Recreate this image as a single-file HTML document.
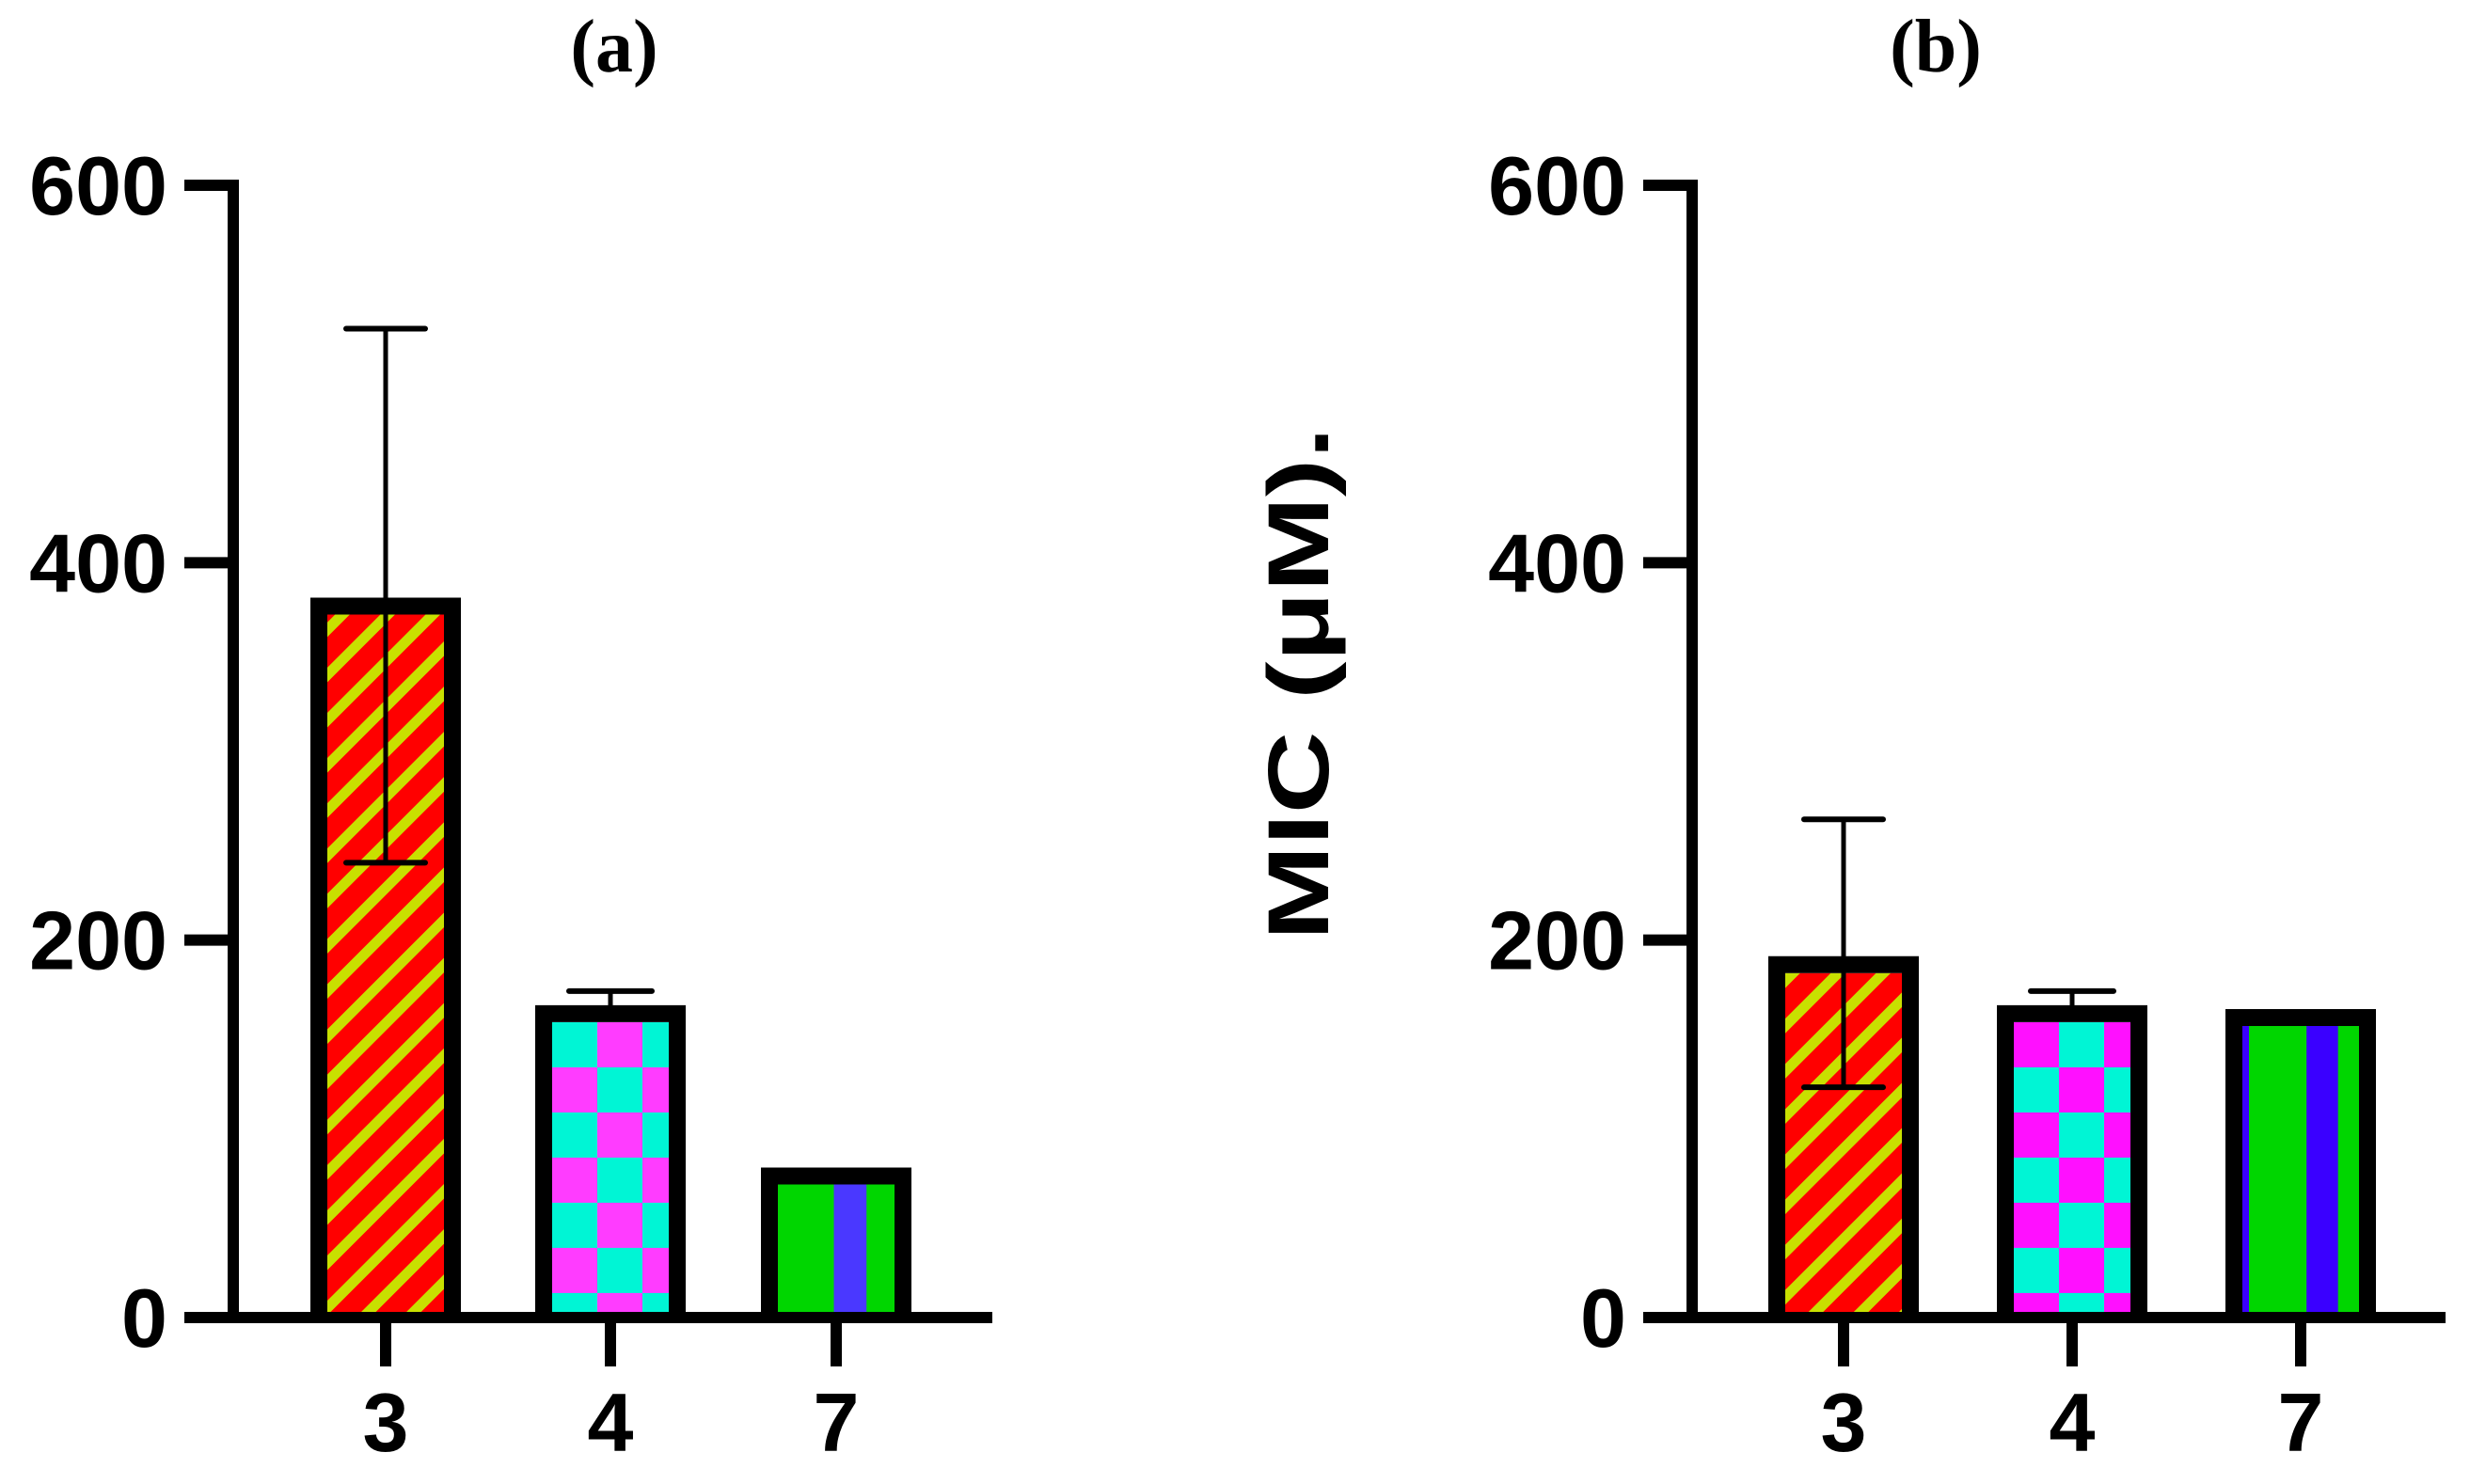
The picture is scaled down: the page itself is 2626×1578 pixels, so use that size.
<!DOCTYPE html>
<html><head><meta charset="utf-8"><style>
html,body{margin:0;padding:0;background:#fff;}
svg{display:block;}
text{font-family:"Liberation Sans",Arial,sans-serif;font-weight:bold;fill:#000;}
</style></head><body>
<svg id="chart" width="2626" height="1578" viewBox="0 0 2626 1578" xmlns="http://www.w3.org/2000/svg">
<defs>
<pattern id="stripeA" patternUnits="userSpaceOnUse" width="34" height="34" patternTransform="rotate(-45)">
<rect width="34" height="34" fill="#ff0000"/><rect width="34" height="11" fill="#c8e000"/>
</pattern>
<pattern id="checkA" patternUnits="userSpaceOnUse" width="96" height="96" x="0" y="0">
<rect width="96" height="96" fill="#00f5d5"/><rect x="48" width="48" height="48" fill="#ff3cff"/><rect y="48" width="48" height="48" fill="#ff3cff"/>
</pattern>
<pattern id="checkB" patternUnits="userSpaceOnUse" width="96" height="96" x="0" y="0">
<rect width="96" height="96" fill="#ff10ff"/><rect x="48" width="48" height="48" fill="#00f5d5"/><rect y="48" width="48" height="48" fill="#00f5d5"/>
</pattern>
</defs>
<g id="layer"></g>
</svg>
<script>
const categories = ["3", "4", "7"];
const valuesA = [377, 161, 75];
const errUpA = [524, 173, 78];
const errDownA = [241, null, null];
const valuesB = [187, 161, 159];
const errUpB = [264, 173, 160];
const errDownB = [122, null, null];
const yTicks = [0, 200, 400, 600];

const NS = "http://www.w3.org/2000/svg";
const layer = document.getElementById("layer");
function mk(tag, attrs, parent) {
  const e = document.createElementNS(NS, tag);
  for (const k in attrs) e.setAttribute(k, attrs[k]);
  (parent || layer).appendChild(e);
  return e;
}
const y0 = 1401, yTop = 197;
function yScale(v) { return y0 - (v / 600) * (y0 - yTop); }

function panel(cfg) {
  const g = mk("g", {});
  
  
  cfg.values.forEach((v, i) => {
    const cx = cfg.xs[i];
    const w = 160, bw = 18;
    const top = yScale(v);
    const fillX = cx - w / 2 + bw, fillW = w - 2 * bw;
    const bg = mk("g", {}, g);
    
    
    if (i === 0) {
      mk("rect", {x: fillX, y: top + bw / 2, width: fillW, height: y0 - top - bw / 2, fill: "url(#stripeA)"}, bg);
    } else if (i === 1) {
      const pid = cfg.checker;
      const pat = document.getElementById(pid);
      pat.setAttribute("x", fillX); pat.setAttribute("y", top + bw / 2);
      mk("rect", {x: fillX, y: top + bw / 2, width: fillW, height: y0 - top - bw / 2, fill: "url(#" + pid + ")"}, bg);
    } else {
      mk("rect", {x: fillX, y: top + bw / 2, width: fillW, height: y0 - top - bw / 2, fill: "#00d600"}, bg);
      mk("rect", {x: fillX + fillW * cfg.blueStart, y: top + bw / 2, width: fillW * cfg.blueW, height: y0 - top - bw / 2, fill: cfg.blue}, bg);
      if (cfg.edgeBlue) mk("rect", {x: fillX, y: top + bw / 2, width: cfg.edgeBlue, height: y0 - top - bw / 2, fill: cfg.blue}, bg);
    }
    mk("path", {d: `M${cx - w / 2 + bw / 2} ${y0} V${top} H${cx + w / 2 - bw / 2} V${y0}`, fill: "none", stroke: "#000", "stroke-width": bw, "stroke-linejoin": "miter"}, bg);
    const up = cfg.errUp[i];
    const eb = mk("g", {}, g);
    
    
    const lo = cfg.errDown[i];
    const yLo = lo === null ? top : yScale(lo);
    mk("line", {x1: cx, x2: cx, y1: yScale(up), y2: yLo, stroke: "#000", "stroke-width": 5}, eb);
    const capW = i === 0 ? 42 : 44;
    mk("line", {x1: cx - capW, x2: cx + capW, y1: yScale(up), y2: yScale(up), stroke: "#000", "stroke-width": 6, "stroke-linecap": "round"}, eb);
    if (lo !== null) mk("line", {x1: cx - capW, x2: cx + capW, y1: yLo, y2: yLo, stroke: "#000", "stroke-width": 6, "stroke-linecap": "round"}, eb);
  });
  const ax = mk("g", {}, g);
  
  
  mk("line", {x1: cfg.axisX, x2: cfg.axisX, y1: yTop - 6, y2: y0 + 6, stroke: "#000", "stroke-width": 12}, ax);
  yTicks.forEach(t => {
    const y = yScale(t);
    mk("line", {x1: cfg.axisX - 52, x2: cfg.axisX, y1: y, y2: y, stroke: "#000", "stroke-width": 12}, ax);
    const tx = mk("text", {x: cfg.axisX - 70, y: y + 31, "text-anchor": "end", "font-size": 88}, ax);
    
    
    tx.textContent = t;
  });
  const xa = mk("g", {}, g);
  
  
  mk("line", {x1: cfg.axisX - 6, x2: cfg.axisEnd, y1: y0, y2: y0, stroke: "#000", "stroke-width": 12}, xa);
  categories.forEach((c, i) => {
    mk("line", {x1: cfg.xs[i], x2: cfg.xs[i], y1: y0, y2: y0 + 52, stroke: "#000", "stroke-width": 12}, xa);
    const tx = mk("text", {x: cfg.xs[i], y: 1543, "text-anchor": "middle", "font-size": 88}, xa);
    
    
    tx.textContent = c;
  });
  const title = mk("text", {x: cfg.titleX, y: 76, "text-anchor": "middle", "font-size": 80, style: "font-family:'Liberation Serif',serif;font-weight:bold"}, g);
  
  
  title.textContent = cfg.title;
}

panel({name: "panel-a", values: valuesA, errUp: errUpA, errDown: errDownA, xs: [410, 649, 889], axisX: 248, axisEnd: 1055, titleX: 653, title: "(a)", checker: "checkA", blue: "#4a38ff", blueStart: 0.48, blueW: 0.28, edgeBlue: 0});
panel({name: "panel-b", values: valuesB, errUp: errUpB, errDown: errDownB, xs: [1960, 2203, 2446], axisX: 1799, axisEnd: 2600, titleX: 2058, title: "(b)", checker: "checkB", blue: "#3a00ff", blueStart: 0.55, blueW: 0.27, edgeBlue: 7});

const yt = mk("text", {x: 0, y: 0, "text-anchor": "start", "font-size": 92, textLength: 546, lengthAdjust: "spacingAndGlyphs", transform: "translate(1412 1000) rotate(-90)"});


yt.textContent = "MIC (\u03BCM).";
</script>
</body></html>
